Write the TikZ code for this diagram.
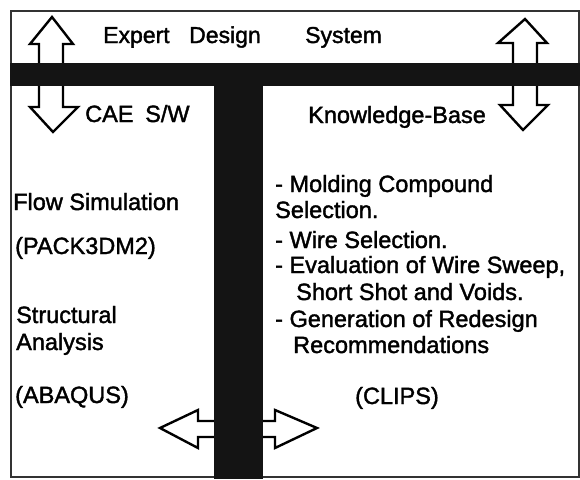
\documentclass[tikz,border=0pt]{standalone}
\usepackage{fontspec}
\setmainfont{Liberation Sans}
\newfontfamily\heavysans{Liberation Sans}[FakeBold=1.6]
\begin{document}
\begin{tikzpicture}[x=1pt,y=-1pt,
  lbl/.style={inner sep=0pt,anchor=base west,font=\heavysans\fontsize{23.5}{26}\selectfont},
  ttl/.style={inner sep=0pt,anchor=base west,font=\heavysans\fontsize{23}{26}\selectfont},
  fatarrow/.style={draw=black,fill=white,line width=2.4pt,line join=miter},
  bar/.style={fill=black!92,draw=none},
  frame/.style={draw=black!80,line width=1.4pt}]
\useasboundingbox (0,0) rectangle (580,479);
% outer frame
\draw[frame] (11,11) -- (579,11) -- (579,477) -- (11,477) -- cycle;
% two-way arrows (drawn before the bars so the bars cover their shafts)
\draw[fatarrow] (52,17) -- (73,44) -- (63,44) -- (63,107) -- (78,107) -- (53,132)
  -- (30,107) -- (39,107) -- (39,44) -- (30,44) -- cycle;
\draw[fatarrow] (525,19) -- (547,43) -- (537,43) -- (537,105) -- (548,105) -- (523,130)
  -- (500,105) -- (513,105) -- (513,43) -- (498,43) -- cycle;
\draw[fatarrow] (160,428) -- (198,410) -- (198,421) -- (275,421) -- (275,410) -- (317,428)
  -- (275,448) -- (275,437) -- (198,437) -- (198,448) -- cycle;
% the T-shaped partition
\fill[bar] (10,63) rectangle (580,86);
\fill[bar] (214,86) rectangle (263,479);
% header
\node[ttl] (t1) at (103,43) {Expert};
\node[ttl] (t2) at (189,43) {Design};
\node[ttl] (t3) at (305,43) {System};
% left column: CAE software
\node[lbl] (cae) at (85,122) {CAE};
\node[lbl] (sw) at (145,122) {S/W};
\node[lbl] (flow) at (13,210) {Flow Simulation};
\node[lbl] (pack) at (15,254) {(PACK3DM2)};
\node[lbl] (str1) at (16,323) {Structural};
\node[lbl] (str2) at (16,350) {Analysis};
\node[lbl] (abq) at (15,403) {(ABAQUS)};
% right column: knowledge base
\node[lbl] (kb) at (308,123) {Knowledge-Base};
\node[lbl] (r1) at (275,192) {- Molding Compound};
\node[lbl] (r2) at (275,218) {Selection.};
\node[lbl] (r3) at (275,248) {- Wire Selection.};
\node[lbl] (r4) at (275,273) {- Evaluation of Wire Sweep,};
\node[lbl] (r5) at (296,300) {Short Shot and Voids.};
\node[lbl] (r6) at (275,327) {- Generation of Redesign};
\node[lbl] (r7) at (293,353) {Recommendations};
\node[lbl] (clips) at (355,404) {(CLIPS)};
\end{tikzpicture}
\end{document}
